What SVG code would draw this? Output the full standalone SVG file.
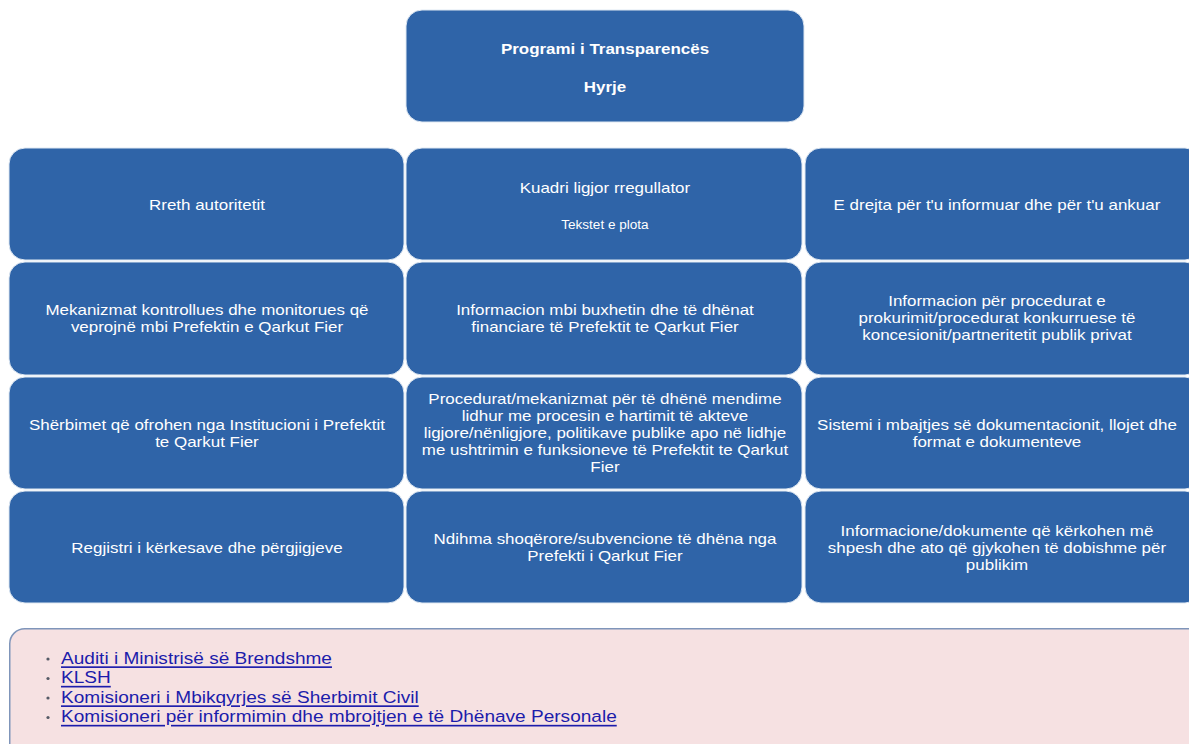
<svg xmlns="http://www.w3.org/2000/svg" width="1189" height="744" viewBox="0 0 1189 744">
<style>
.box{fill:#2f64a8;stroke:#dfe8f2;stroke-width:1}
.t{fill:#ffffff;font-family:"Liberation Sans",Arial,sans-serif;font-size:15px;text-anchor:middle;dominant-baseline:central;transform-box:fill-box;transform-origin:center;transform:scaleX(1.13)}
.b{font-weight:bold}
.s{font-size:12px}
.panel{fill:#f6e1e2;stroke:#7f95ba;stroke-width:1.5}
.lk{fill:#1c1cab;font-family:"Liberation Sans",Arial,sans-serif;font-size:16.5px;text-decoration:underline;dominant-baseline:central;transform-box:fill-box;transform-origin:left center;transform:scaleX(1.155)}
.dot{fill:#555a66}
</style>
<rect width="1189" height="744" fill="#ffffff"/>
<g id="connectors"></g>
<g id="n-top">
<rect class="box" x="406" y="10" width="398" height="112" rx="16"/>
<text class="t b"><tspan x="605" y="48">Programi i Transparencës</tspan><tspan x="605" y="86">Hyrje</tspan></text>
</g>
<g id="n-rreth">
<rect class="box" x="9" y="148" width="395" height="112" rx="16"/>
<text class="t"><tspan x="207" y="204">Rreth autoritetit</tspan></text>
</g>
<g id="n-kuadri">
<rect class="box" x="406" y="148" width="396" height="112" rx="16"/>
<text class="t"><tspan x="605" y="187">Kuadri ligjor rregullator</tspan></text>
<text class="t s"><tspan x="605" y="224">Tekstet e plota</tspan></text>
</g>
<g id="n-drejta">
<rect class="box" x="805" y="148" width="396" height="112" rx="16"/>
<text class="t"><tspan x="997" y="204">E drejta për t'u informuar dhe për t'u ankuar</tspan></text>
</g>
<g id="n-mekanizmat">
<rect class="box" x="9" y="262" width="395" height="113" rx="16"/>
<text class="t"><tspan x="207" y="309">Mekanizmat kontrollues dhe monitorues që</tspan><tspan x="207" y="326">veprojnë mbi Prefektin e Qarkut Fier</tspan></text>
</g>
<g id="n-buxhet">
<rect class="box" x="406" y="262" width="396" height="113" rx="16"/>
<text class="t"><tspan x="605" y="309">Informacion mbi buxhetin dhe të dhënat</tspan><tspan x="605" y="326">financiare të Prefektit te Qarkut Fier</tspan></text>
</g>
<g id="n-prokurim">
<rect class="box" x="805" y="262" width="396" height="113" rx="16"/>
<text class="t"><tspan x="997" y="300">Informacion për procedurat e</tspan><tspan x="997" y="317">prokurimit/procedurat konkurruese të</tspan><tspan x="997" y="334">koncesionit/partneritetit publik privat</tspan></text>
</g>
<g id="n-sherbimet">
<rect class="box" x="9" y="377" width="395" height="112" rx="16"/>
<text class="t"><tspan x="207" y="424.5">Shërbimet që ofrohen nga Institucioni i Prefektit</tspan><tspan x="207" y="441.5">te Qarkut Fier</tspan></text>
</g>
<g id="n-procedurat">
<rect class="box" x="406" y="377" width="396" height="112" rx="16"/>
<text class="t"><tspan x="605" y="398">Procedurat/mekanizmat për të dhënë mendime</tspan><tspan x="605" y="415">lidhur me procesin e hartimit të akteve</tspan><tspan x="605" y="432">ligjore/nënligjore, politikave publike apo në lidhje</tspan><tspan x="605" y="449">me ushtrimin e funksioneve të Prefektit te Qarkut</tspan><tspan x="605" y="466">Fier</tspan></text>
</g>
<g id="n-sistemi">
<rect class="box" x="805" y="377" width="396" height="112" rx="16"/>
<text class="t"><tspan x="997" y="424.5">Sistemi i mbajtjes së dokumentacionit, llojet dhe</tspan><tspan x="997" y="441.5">format e dokumenteve</tspan></text>
</g>
<g id="n-regjistri">
<rect class="box" x="9" y="491" width="395" height="112" rx="16"/>
<text class="t"><tspan x="207" y="547">Regjistri i kërkesave dhe përgjigjeve</tspan></text>
</g>
<g id="n-ndihma">
<rect class="box" x="406" y="491" width="396" height="112" rx="16"/>
<text class="t"><tspan x="605" y="538.5">Ndihma shoqërore/subvencione të dhëna nga</tspan><tspan x="605" y="555.5">Prefekti i Qarkut Fier</tspan></text>
</g>
<g id="n-informacione">
<rect class="box" x="805" y="491" width="396" height="112" rx="16"/>
<text class="t"><tspan x="997" y="530">Informacione/dokumente që kërkohen më</tspan><tspan x="997" y="547">shpesh dhe ato që gjykohen të dobishme për</tspan><tspan x="997" y="564">publikim</tspan></text>
</g>
<g id="n-links">
<rect class="panel" x="9.75" y="628.75" width="1200" height="140" rx="15"/>
<circle class="dot" cx="48" cy="659" r="1.6"/>
<circle class="dot" cx="48" cy="678.5" r="1.6"/>
<circle class="dot" cx="48" cy="698" r="1.6"/>
<circle class="dot" cx="48" cy="717.5" r="1.6"/>
<text class="lk" x="61" y="658">Auditi i Ministrisë së Brendshme</text>
<text class="lk" x="61" y="677.5">KLSH</text>
<text class="lk" x="61" y="697">Komisioneri i Mbikqyrjes së Sherbimit Civil</text>
<text class="lk" x="61" y="716.5">Komisioneri për informimin dhe mbrojtjen e të Dhënave Personale</text>
</g>
</svg>
